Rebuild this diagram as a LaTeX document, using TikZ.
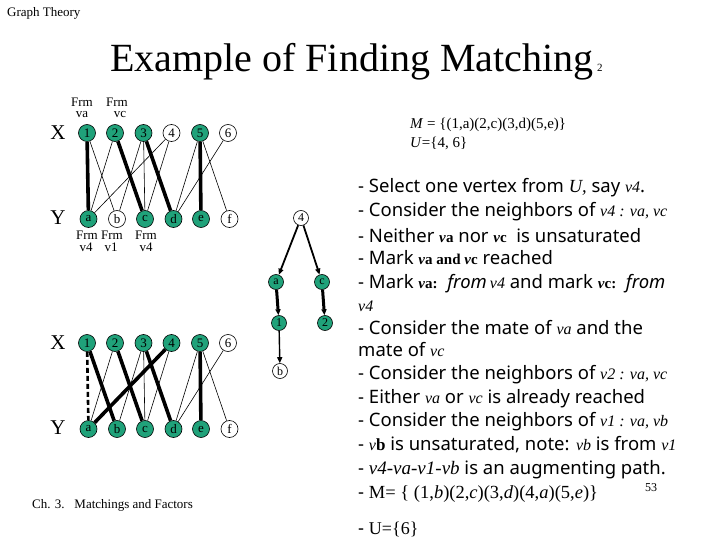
\documentclass[tikz,border=0pt]{standalone}
\usepackage{fontspec}
\setmainfont{Liberation Serif}
\newfontfamily\sansf{Noto Sans}
\usetikzlibrary{arrows.meta,backgrounds}
\definecolor{tealc}{RGB}{32,162,122}
\newcommand\fs[1]{\fontsize{#1}{#1}\selectfont}
\newcommand\iv[1]{{\rmfamily\itshape\fs{16}#1}}
\newcommand\bv[1]{{\rmfamily\bfseries\fs{15}#1}}
\tikzset{
  vf/.style={circle,draw,line width=0.6pt,fill=tealc,minimum size=17pt,inner sep=0pt,font=\fs{13}},
  ve/.style={vf,fill=white},
  tf/.style={circle,draw,line width=0.6pt,fill=tealc,minimum size=15pt,inner sep=0pt,font=\fs{12}},
  te/.style={tf,fill=white},
  thinE/.style={line width=0.6pt},
  thickE/.style={line width=3.6pt},
  dashE/.style={line width=2.6pt,dash pattern=on 5pt off 3pt},
  arr/.style={-{Triangle[length=6pt,width=5pt]}},
  txt/.style={anchor=base west,inner sep=0pt,font=\sansf\fs{18.5}},
  lab/.style={inner sep=0pt,font=\fs{13}}
}
\begin{document}
\begin{tikzpicture}[x=1pt,y=-1pt]
\useasboundingbox (0,0) rectangle (720,540);
% headers
\node[anchor=base west,inner sep=0pt,font=\fs{13}] (hdr) at (7,17) {Graph Theory};
\node[anchor=base west,inner sep=0pt,font=\fs{40}] (title) at (110,72) {Example of Finding Matching};
\node[anchor=base west,inner sep=0pt,font=\fs{11}] (pg) at (597,72) {2};
\node[anchor=base west,inner sep=0pt,font=\fs{13}] (foot) at (32,508) {Ch. 3.\ \ \ Matchings and Factors};
% X / Y labels
\foreach \nm/\t/\yy in {lx1/X/133,ly1/Y/218,lx2/X/343,ly2/Y/428}
  \node[font=\fs{21},inner sep=0pt] (\nm) at (58,\yy) {\t};
% top graph
\foreach \n/\x/\s in {1/87/vf,2/115/vf,3/143.5/vf,4/171.5/ve,5/200/vf,6/228/ve}
  \node[\s] (x\n) at (\x,133) {\n};
\foreach \n/\x/\s in {a/88.5/vf,b/117/ve,c/145/vf,d/173.5/vf,e/201/vf,f/229.5/ve}
  \node[\s] (y\n) at (\x,219) {\n};
\begin{scope}[on background layer]
\foreach \a/\b in {1/b,2/a,3/b,3/c,4/a,4/c,5/d,5/f,6/d}
  \draw[thinE] (x\a) -- (y\b);
\foreach \a/\b in {1/a,2/c,3/d,5/e}
  \draw[thickE] (x\a) -- (y\b);
\end{scope}
% Frm labels
\node[lab] (f1a) at (82,102) {Frm};
\node[lab] (f1b) at (82,115) {va};
\node[lab] (f2a) at (117,102) {Frm};
\node[lab] (f2b) at (120,115) {vc};
\node[lab] (fa1) at (87,235) {Frm};
\node[lab] (fa2) at (86,247) {v4};
\node[lab] (fb1) at (112,235) {Frm};
\node[lab] (fb2) at (111,247) {v1};
\node[lab] (fc1) at (146,235) {Frm};
\node[lab] (fc2) at (146,247) {v4};
% bottom graph
\foreach \n/\x/\s in {1/87/vf,2/115/vf,3/143.5/vf,4/171.5/vf,5/200/vf,6/228/ve}
  \node[\s] (bx\n) at (\x,343) {\n};
\foreach \n/\x/\s in {a/88.5/vf,b/117/vf,c/145/vf,d/173.5/vf,e/201/vf,f/229.5/ve}
  \node[\s] (by\n) at (\x,429) {\n};
\begin{scope}[on background layer]
\foreach \a/\b in {2/a,3/b,3/c,4/c,5/d,5/f,6/d}
  \draw[thinE] (bx\a) -- (by\b);
\foreach \a/\b in {1/b,2/c,3/d,4/a,5/e}
  \draw[thickE] (bx\a) -- (by\b);
\draw[dashE] (bx1) -- (bya);
\end{scope}
% tree
\node[te] (t4) at (301,218) {4};
\node[tf] (ta) at (276,282) {a};
\node[tf] (tc) at (322,282) {c};
\node[tf] (t1) at (279,323) {1};
\node[tf] (t2) at (325,323) {2};
\node[te] (tb) at (280,371) {b};
\draw[arr,line width=1.8pt] (t4) -- (ta);
\draw[arr,line width=1.8pt] (t4) -- (tc);
\draw[arr,line width=3pt] (ta) -- (t1);
\draw[arr,line width=3pt] (tc) -- (t2);
\draw[arr,line width=1.4pt] (t1) -- (tb);
% M and U
\node[anchor=base west,inner sep=0pt,font=\fs{15}] (mset) at (410,129) {\textit{M} = \{(1,a)(2,c)(3,d)(5,e)\}};
\node[anchor=base west,inner sep=0pt,font=\fs{15}] (uset) at (410,148) {\textit{U}=\{4, 6\}};
% right text
\node[txt] (l1) at (358,193) {- Select one vertex from {\rmfamily\itshape U,} say \iv{v4}.};
\node[txt] (l2) at (358,217) {- Consider the neighbors of \iv{v4 : va, vc}};
\node[txt] (l3) at (358,242) {- Neither \bv{\textit{v}a} nor \bv{\textit{v}c}\ \ is unsaturated};
\node[txt] (l4) at (358,264) {- Mark \bv{\textit{v}a and \textit{v}c} reached};
\node[txt] (l5) at (358,288) {- Mark \bv{\textit{v}a:}\ \ {\itshape from}\,\iv{v4} and mark \bv{\textit{v}c:}\ \ {\itshape from}};
\node[txt] (l6) at (358,311) {\iv{v4}};
\node[txt] (l7) at (358,334) {- Consider the mate of \iv{va} and the};
\node[txt] (l8) at (358,356) {mate of \iv{vc}};
\node[txt] (l9) at (358,379) {- Consider the neighbors of \iv{v2 : va, vc}};
\node[txt] (l10) at (358,403) {- Either \iv{va} or \iv{vc} is already reached};
\node[txt] (l11) at (358,426) {- Consider the neighbors of \iv{v1 : va, vb}};
\node[txt] (l12) at (358,450) {- \iv{v}{\rmfamily\bfseries\fs{17}b} is unsaturated, note: \iv{vb} is from \iv{v1}};
\node[txt] (l13) at (358,474) {- {\rmfamily\itshape\fs{19}v4-va-v1-vb} is an augmenting path.};
\node[txt] (l14) at (358,498) {- {\rmfamily\fs{18.5}M= \{ (1,\textit{b})(2,\textit{c})(3,\textit{d})(4,\textit{a})(5,\textit{e})\}}};
\node[txt] (l15) at (358,534) {- {\rmfamily\fs{18}U=\{6\}}};
\node[anchor=base west,inner sep=0pt,font=\fs{12}] (pn) at (645,491) {53};
\end{tikzpicture}
\end{document}
